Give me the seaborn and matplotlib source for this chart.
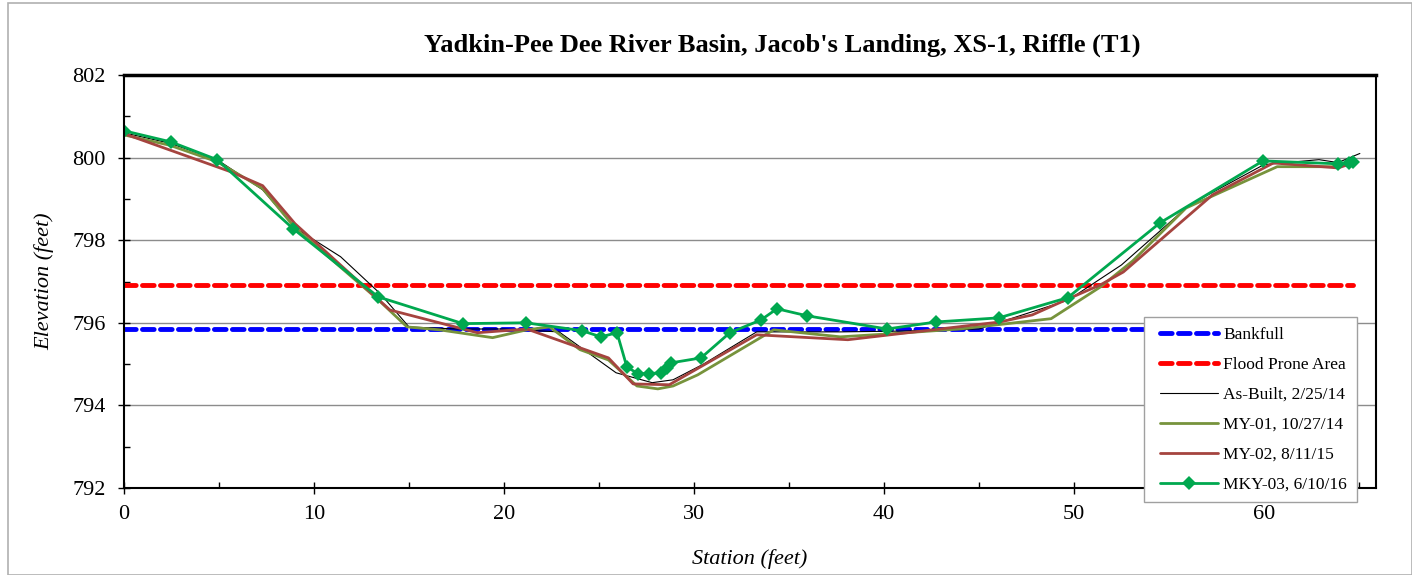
import numpy as np
import pandas as pd
import seaborn as sns
import matplotlib.pyplot as plt
from matplotlib.patches import Rectangle
from matplotlib.lines import Line2D
from matplotlib.legend_handler import HandlerLine2D

# Survey data (station ft, elevation ft)
asbuilt_x = [0.0, 2.4, 4.9, 7.3, 9.0, 11.4, 13.5, 15.0, 17.5, 20.0, 22.9, 25.9, 27.8, 28.9, 30.5, 33.3, 37.7, 41.0, 45.0, 49.7, 52.5, 56.1, 60.0, 62.9, 63.9, 65.05]
asbuilt_y = [800.6, 800.35, 799.95, 799.22, 798.3, 797.6, 796.7, 795.9, 795.85, 795.85, 795.78, 794.79, 794.55, 794.62, 795.0, 795.78, 795.78, 795.8, 795.85, 796.55, 797.4, 798.86, 799.83, 799.95, 799.88, 800.1]

my01_x = [0.0, 2.4, 4.9, 7.3, 9.0, 13.4, 14.9, 16.6, 19.4, 21.2, 22.4, 24.0, 25.5, 27.0, 28.1, 28.9, 30.2, 34.2, 37.7, 40.2, 44.0, 48.8, 51.4, 53.1, 55.9, 60.7, 63.9]
my01_y = [800.55, 800.3, 799.9, 799.25, 798.3, 796.55, 795.9, 795.83, 795.64, 795.83, 795.9, 795.35, 795.1, 794.47, 794.4, 794.47, 794.74, 795.83, 795.66, 795.73, 795.85, 796.1, 796.87, 797.5, 798.78, 799.78, 799.78]

my02_x = [0.0, 5.6, 7.3, 9.0, 14.0, 16.6, 18.6, 21.2, 25.5, 26.8, 28.7, 33.3, 38.1, 46.1, 47.8, 49.6, 51.4, 52.6, 57.3, 60.5, 63.9, 64.7]
my02_y = [800.58, 799.66, 799.32, 798.4, 796.31, 796.0, 795.76, 795.85, 795.15, 794.52, 794.5, 795.71, 795.59, 796.02, 796.19, 796.56, 796.92, 797.23, 799.1, 799.87, 799.75, 799.87]

mky03_x = [0.0, 2.47, 4.9, 8.9, 13.37, 17.84, 21.16, 24.1, 25.1, 25.95, 26.47, 27.05, 27.63, 28.26, 28.58, 28.79, 30.37, 31.89, 33.53, 34.37, 35.95, 40.16, 42.74, 46.05, 49.68, 54.53, 59.95, 63.9, 64.5, 64.7]
mky03_y = [800.65, 800.38, 799.95, 798.28, 796.63, 795.98, 796.0, 795.81, 795.66, 795.76, 794.93, 794.77, 794.77, 794.79, 794.91, 795.03, 795.15, 795.76, 796.07, 796.34, 796.17, 795.85, 796.02, 796.12, 796.61, 798.42, 799.92, 799.85, 799.88, 799.9]

bankfull_elev = 795.85
flood_elev = 796.92
level_x = [0.0, 64.7]

sns.set_style("ticks")
plt.rcParams['font.family'] = ['Liberation Serif', 'DejaVu Serif']
plt.rcParams.update({'text.color': 'black', 'axes.labelcolor': 'black',
                     'xtick.color': 'black', 'ytick.color': 'black'})

fig = plt.figure(figsize=(14.12, 5.75), dpi=100)
ax = fig.add_axes([124/1412, 1-488/575, (1376-124)/1412, (488-75)/575])

sns.lineplot(x=level_x, y=[bankfull_elev]*2, ax=ax, color='#0000FF', lw=3.5,
             label='Bankfull').lines[-1].set_dashes((2.4, 1.3))
sns.lineplot(x=level_x, y=[flood_elev]*2, ax=ax, color='#FF0000', lw=3.5,
             label='Flood Prone Area').lines[-1].set_dashes((2.4, 1.3))
sns.lineplot(x=asbuilt_x, y=asbuilt_y, ax=ax, sort=False, color='black', lw=0.8,
             label='As-Built, 2/25/14')
sns.lineplot(x=my01_x, y=my01_y, ax=ax, sort=False, color='#77933C', lw=2,
             label='MY-01, 10/27/14')
sns.lineplot(x=my02_x, y=my02_y, ax=ax, sort=False, color='#A5443F', lw=2,
             label='MY-02, 8/11/15')
sns.lineplot(x=mky03_x, y=mky03_y, ax=ax, sort=False, color='#00A84F', lw=2,
             marker='D', markersize=7, markeredgewidth=0, label='MKY-03, 6/10/16')
for ln in ax.lines[:2]:
    ln.set_dash_capstyle('round')

ax.set_xlim(0, 65.9)
ax.set_ylim(792, 802)
ax.set_xticks(np.arange(0, 61, 10))
ax.set_xticks(np.arange(5, 66, 10), minor=True)
ax.set_yticks(np.arange(792, 803, 2))
ax.set_yticks(np.arange(793, 802, 2), minor=True)
ax.tick_params(axis='both', which='major', labelsize=16, direction='inout', length=8, width=1)
ax.tick_params(axis='both', which='minor', direction='in', length=4, width=1)
ax.tick_params(axis='y', which='major', pad=9)
ax.tick_params(axis='x', which='major', pad=8)
ax.grid(axis='y', which='major', color='#8C8C8C', lw=1)
for s in ax.spines.values():
    s.set_visible(True)
    s.set_color('black')
    s.set_linewidth(1.5)
ax.spines['top'].set_linewidth(2.5)

ax.set_title("Yadkin-Pee Dee River Basin, Jacob's Landing, XS-1, Riffle (T1)",
             fontsize=19, fontweight='bold', pad=17, x=0.5256)
ax.set_xlabel('Station (feet)', fontsize=16, fontstyle='italic', labelpad=18)
ax.set_ylabel('Elevation (feet)', fontsize=16, fontstyle='italic', labelpad=13)

leg = ax.legend(loc='upper left', bbox_to_anchor=(0.815, 0.414), fontsize=12.5,
                frameon=True, fancybox=False, edgecolor='#A0A0A0', framealpha=1,
                handlelength=3.7, handletextpad=0.3, labelspacing=0.8,
                borderpad=0.55, borderaxespad=0,
                handler_map={Line2D: HandlerLine2D(xpad=0.37)})
leg.get_frame().set_linewidth(1)
leg.set_zorder(5)

fig.patches.append(Rectangle((8/1412, 0), 1 - 8/1412, 1 - 3/575, transform=fig.transFigure,
                             fill=False, edgecolor='#B0B0B0', lw=1.2))

fig.savefig('out.png', dpi=100)
